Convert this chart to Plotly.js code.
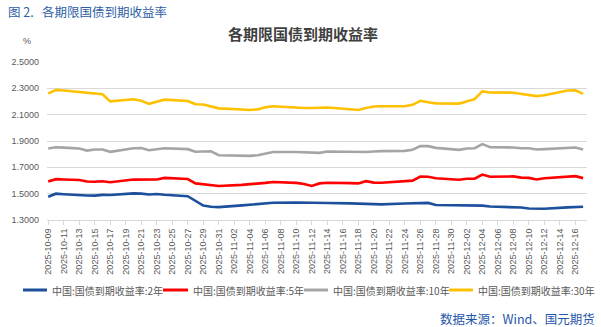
<!DOCTYPE html>
<html><head><meta charset="utf-8">
<script src="https://cdn.plot.ly/plotly-3.0.1.min.js"></script>
<style>html,body{margin:0;padding:0;background:#fff}#chart{width:601px;height:327px}</style>
</head><body><div id="chart"></div>
<script>
const dates = ['2025-10-09','2025-10-10','2025-10-11','2025-10-13','2025-10-14','2025-10-15','2025-10-16','2025-10-17',
'2025-10-20','2025-10-21','2025-10-22','2025-10-23','2025-10-24','2025-10-27','2025-10-28','2025-10-29','2025-10-30','2025-10-31',
'2025-11-03','2025-11-04','2025-11-05','2025-11-06','2025-11-07','2025-11-10','2025-11-11','2025-11-12','2025-11-13','2025-11-14',
'2025-11-17','2025-11-18','2025-11-19','2025-11-20','2025-11-21','2025-11-24','2025-11-25','2025-11-26','2025-11-27','2025-11-28',
'2025-12-01','2025-12-02','2025-12-03','2025-12-04','2025-12-05','2025-12-08','2025-12-09','2025-12-10','2025-12-11','2025-12-12',
'2025-12-15','2025-12-16','2025-12-17'];
const y2 = [1.477,1.500,1.496,1.487,1.486,1.485,1.491,1.490,1.502,1.500,1.494,1.498,1.492,1.481,1.446,1.410,1.401,1.398,
1.411,1.417,1.423,1.429,1.431,1.433,1.431,1.430,1.429,1.429,1.426,1.424,1.423,1.421,1.419,1.425,1.425,1.429,1.430,1.414,
1.414,1.414,1.414,1.409,1.402,1.401,1.395,1.387,1.386,1.386,1.396,1.401,1.401];
const y5 = [1.592,1.610,1.608,1.604,1.592,1.590,1.594,1.587,1.607,1.606,1.605,1.608,1.620,1.611,1.578,1.571,1.563,1.558,
1.567,1.571,1.576,1.582,1.589,1.582,1.573,1.559,1.578,1.583,1.580,1.578,1.595,1.584,1.583,1.592,1.599,1.630,1.628,1.617,
1.606,1.613,1.614,1.645,1.629,1.631,1.622,1.620,1.608,1.617,1.633,1.633,1.618];
const y10 = [1.843,1.853,1.850,1.843,1.827,1.836,1.836,1.818,1.845,1.846,1.830,1.840,1.845,1.838,1.818,1.820,1.822,1.792,
1.787,1.787,1.792,1.804,1.817,1.817,1.815,1.811,1.810,1.820,1.815,1.813,1.817,1.820,1.823,1.825,1.834,1.861,1.861,1.848,
1.833,1.843,1.845,1.876,1.853,1.851,1.845,1.845,1.836,1.838,1.849,1.851,1.836];
const y30 = [2.260,2.288,2.283,2.272,2.266,2.264,2.255,2.201,2.217,2.205,2.182,2.198,2.214,2.204,2.179,2.177,2.164,2.148,
2.139,2.136,2.140,2.156,2.164,2.152,2.151,2.151,2.151,2.154,2.141,2.136,2.151,2.162,2.164,2.164,2.175,2.205,2.195,2.186,
2.184,2.203,2.218,2.277,2.268,2.267,2.258,2.253,2.241,2.247,2.283,2.285,2.258];
const seriesNames = ['中国:国债到期收益率:2年','中国:国债到期收益率:5年','中国:国债到期收益率:10年','中国:国债到期收益率:30年'];
const seriesColors = ['#1c4f9c','#ff0000','#a5a5a5','#ffc000'];
const chartTitle = '各期限国债到期收益率';
const caption = '图&nbsp;2.&nbsp;&nbsp;&nbsp;各期限国债到期收益率';
const sourceText = '数据来源：Wind、国元期货';
const unitText = '%';

const FONT = 'Liberation Sans, Arial, Noto Sans CJK SC, sans-serif';
const CJK = 'Noto Sans CJK SC, Liberation Sans, sans-serif';
const L = 47, R = 587, T = 62, B = 220;
const px = x => (x - L) / (R - L);
const py = y => (B - y) / (B - T);

const allY = [y2, y5, y10, y30];
const traces = allY.map((ys, i) => ({
  x: dates, y: ys, type: 'scatter', mode: 'lines', name: seriesNames[i],
  line: {color: seriesColors[i], width: 2.6}, showlegend: false, hoverinfo: 'skip'
}));

const legLineX = [[23, 47], [163, 188], [304, 328], [449, 473]];
const legY = 290;
const shapes = [];
const annotations = [];
legLineX.forEach((p, i) => {
  shapes.push({type: 'line', xref: 'paper', yref: 'paper', x0: px(p[0]), x1: px(p[1]), y0: py(legY), y1: py(legY),
    line: {color: seriesColors[i], width: 3}});
  annotations.push({xref: 'paper', yref: 'paper', x: px(p[1] + 3), y: py(legY), xanchor: 'left', yanchor: 'middle',
    text: seriesNames[i], showarrow: false, font: {family: CJK, size: 10, color: '#595959'}});
});
annotations.push({xref: 'paper', yref: 'paper', x: px(6), y: py(11), xanchor: 'left', yanchor: 'middle',
  text: caption, showarrow: false, font: {family: CJK, size: 12.5, color: '#2d5ea6'}});
annotations.push({xref: 'paper', yref: 'paper', x: px(27), y: py(41), xanchor: 'center', yanchor: 'middle',
  text: unitText, showarrow: false, font: {family: FONT, size: 9, color: '#595959'}});
annotations.push({xref: 'paper', yref: 'paper', x: px(597), y: py(318), xanchor: 'right', yanchor: 'middle',
  text: sourceText, showarrow: false, font: {family: CJK, size: 12.5, color: '#1f56a8'}});

const layout = {
  width: 601, height: 327,
  margin: {l: L, r: 601 - R, t: T, b: 327 - B, pad: 0},
  paper_bgcolor: '#ffffff', plot_bgcolor: '#ffffff',
  font: {family: FONT, color: '#595959'},
  title: {text: '<b>' + chartTitle + '</b>', font: {family: CJK, size: 15, color: '#404040'},
    xref: 'container', yref: 'container', x: 0.504, y: 1 - 35 / 327, xanchor: 'center', yanchor: 'middle'},
  xaxis: {
    type: 'date', range: ['2025-10-08 20:15', '2025-12-17 12:00'],
    tick0: '2025-10-09', dtick: 2 * 86400000, tickformat: '%Y-%m-%d', tickangle: -90,
    showgrid: false, showline: true, linecolor: '#d9d9d9', linewidth: 1,
    ticks: 'outside', ticklen: 4, tickcolor: '#d9d9d9',
    tickfont: {family: FONT, size: 9, color: '#595959'}, fixedrange: true
  },
  yaxis: {
    range: [1.3, 2.5], tick0: 1.3, dtick: 0.2, tickformat: '.4f',
    showgrid: true, gridcolor: '#d9d9d9', gridwidth: 1, zeroline: false, showline: false, ticks: '',
    ticklabelstandoff: 7,
    tickfont: {family: FONT, size: 9, color: '#595959'}, fixedrange: true
  },
  shapes: shapes, annotations: annotations, showlegend: false
};
Plotly.newPlot('chart', traces, layout, {displayModeBar: false, staticPlot: true});
</script></body></html>
